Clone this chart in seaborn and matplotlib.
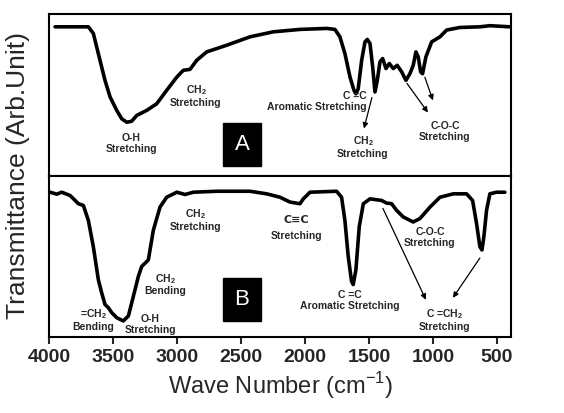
import numpy as np
import pandas as pd
import matplotlib
matplotlib.use("Agg")
import matplotlib.pyplot as plt
import seaborn as sns

# --- spectrum A (wave number, transmittance in arb. units) ---
wn_a = [3953, 3693, 3654, 3602, 3563, 3523, 3471, 3432, 3393, 3354, 3315, 3237,
        3159, 3081, 3002, 2951, 2898, 2846, 2768, 2612, 2430, 2248, 2039, 1830,
        1766, 1727, 1688, 1648, 1617, 1602, 1584, 1557, 1531, 1513, 1492, 1471,
        1453, 1435, 1414, 1393, 1367, 1341, 1310, 1279, 1244, 1211, 1180, 1154,
        1133, 1115, 1096, 1081, 1055, 1010, 945, 893, 789, 633, 555, 398]
tr_a = [92.1, 92.1, 88.0, 71.4, 59.0, 48.7, 40.4, 35.2, 33.1, 33.7, 37.3, 40.4,
        44.5, 52.8, 61.0, 65.2, 65.8, 71.4, 76.6, 80.7, 85.9, 89.0, 90.5, 91.1,
        90.5, 85.9, 75.6, 61.0, 52.8, 50.7, 53.8, 71.4, 82.8, 84.3, 81.8, 67.3,
        51.8, 59.0, 70.4, 72.5, 66.3, 69.4, 66.3, 68.3, 64.2, 59.0, 63.1, 68.3,
        76.6, 73.5, 64.2, 63.1, 73.5, 82.8, 85.9, 90.1, 91.7, 92.1, 92.8, 92.1]

# --- spectrum B ---
wn_b = [3992, 3940, 3901, 3836, 3771, 3732, 3693, 3654, 3615, 3589, 3563, 3537,
        3510, 3471, 3420, 3380, 3341, 3302, 3276, 3250, 3224, 3185, 3133, 3081,
        3002, 2937, 2873, 2690, 2430, 2299, 2195, 2117, 2039, 2013, 1961, 1753,
        1714, 1688, 1662, 1636, 1623, 1602, 1576, 1544, 1492, 1401, 1362, 1323,
        1284, 1232, 1154, 1102, 1023, 945, 841, 737, 690, 659, 633, 617, 602,
        581, 555, 503, 438]
tr_b = [89.8, 88.6, 89.8, 87.8, 82.7, 81.6, 72.4, 56.1, 35.7, 27.6, 20.4, 18.4,
        15.3, 12.2, 10.2, 13.3, 25.5, 37.8, 43.9, 45.9, 48.0, 66.3, 80.6, 86.7,
        89.8, 88.4, 89.8, 90.4, 90.4, 88.8, 86.7, 83.7, 82.7, 85.7, 89.8, 90.4,
        86.7, 72.4, 50.0, 34.7, 32.7, 41.8, 68.4, 82.7, 85.7, 84.7, 83.1, 82.7,
        78.6, 74.5, 71.4, 73.5, 80.6, 86.7, 88.8, 88.8, 84.7, 70.4, 56.1, 54.1,
        62.2, 78.6, 88.8, 89.8, 89.8]

x_ticks = [4000, 3500, 3000, 2500, 2000, 1500, 1000, 500]

# band labels: (text, wave number, transmittance)
labels_a = [
    ("O-H\nStretching", 3359, 19.9),
    ("CH$_\\mathbf{2}$\nStretching", 2852, 49.7),
    ("CH$_\\mathbf{2}$\nStretching", 1547, 18.0),
    ("C-O-C\nStretching", 906, 27.3),
]
labels_b = [
    ("=CH$_\\mathbf{2}$\nBending", 3656, 11.0),
    ("O-H\nStretching", 3211, 8.0),
    ("CH$_\\mathbf{2}$\nBending", 3094, 33.0),
    ("CH$_\\mathbf{2}$\nStretching", 2859, 73.0),
    ("Stretching", 2070, 63.0),
    ("C =C\nAromatic Stretching", 1648, 22.7),
    ("C-O-C\nStretching", 1023, 62.0),
    ("C =CH$_\\mathbf{2}$\nStretching", 906, 11.0),
]
# arrows: (start wn, start tr, end wn, end tr)
arrows_a = [(1477, 48.4, 1539, 29.2), (1203, 57.1, 1039, 39.1), (1063, 60.9, 1000, 46.6)]
arrows_b = [(1391, 79.8, 1055, 23.3), (633, 49.1, 844, 24.5)]

sns.set_style("white")
plt.rcParams["font.family"] = ["Liberation Sans", "DejaVu Sans"]
plt.rcParams["mathtext.fontset"] = "custom"
plt.rcParams["mathtext.rm"] = "Liberation Sans"
plt.rcParams["mathtext.bf"] = "Liberation Sans:bold"

fig, (ax1, ax2) = plt.subplots(2, 1, figsize=(5.64, 4.13), dpi=100, sharex=True)
fig.subplots_adjust(left=0.087, right=0.906, top=0.966, bottom=0.183, hspace=0)

df_a = pd.DataFrame({"wn": wn_a, "tr": tr_a})
df_b = pd.DataFrame({"wn": wn_b, "tr": tr_b})
sns.lineplot(data=df_a, x="wn", y="tr", ax=ax1, color="black", lw=2.6, estimator=None)
sns.lineplot(data=df_b, x="wn", y="tr", ax=ax2, color="black", lw=2.6, estimator=None)

for ax in (ax1, ax2):
    ax.set_xlim(4000, 390)
    ax.set_ylim(0, 100)
    ax.set_yticks([])
    ax.set_ylabel("")
    ax.set_xlabel("")
    for s in ax.spines.values():
        s.set_linewidth(1.5)
        s.set_color("black")

ax1.tick_params(axis="x", bottom=False, labelbottom=False)
ax2.set_xticks(x_ticks)
ax2.tick_params(axis="x", direction="out", length=5, width=1.5, bottom=True,
                labelsize=14)
for t in ax2.get_xticklabels():
    t.set_fontweight("bold")

txt = dict(fontsize=7.5, fontweight="bold", ha="center", va="center", linespacing=1.1)
for s, x, y in labels_a:
    ax1.text(x, y, s, **txt)
ax1.text(1906, 46, "C =C\nAromatic Stretching", multialignment="right", **txt)
for s, x, y in labels_b:
    ax2.text(x, y, s, **txt)
# triple bond sign drawn in DejaVu Sans so the three bars show
ax2.text(2070, 72.4, "C\u2261C", fontsize=8, fontweight="bold", ha="center",
         va="center", family=["DejaVu Sans"])

arrowprops = dict(arrowstyle="-|>", color="black", lw=0.9, mutation_scale=8,
                  shrinkA=0, shrinkB=0)
for x0, y0, x1, y1 in arrows_a:
    ax1.annotate("", xy=(x1, y1), xytext=(x0, y0), arrowprops=arrowprops)
for x0, y0, x1, y1 in arrows_b:
    ax2.annotate("", xy=(x1, y1), xytext=(x0, y0), arrowprops=arrowprops)

box = dict(boxstyle="square,pad=0.5", fc="black", ec="black")
ax1.text(2492, 19.3, "A", color="white", fontsize=16, ha="center", va="center", bbox=box)
ax2.text(2492, 23.3, "B", color="white", fontsize=16, ha="center", va="center", bbox=box)

fig.text(0.032, 0.575, "Transmittance (Arb.Unit)", rotation=90, fontsize=19,
         ha="center", va="center")
fig.text(0.497, 0.067, "Wave Number (cm$^{\\mathrm{-1}}$)", fontsize=17,
         ha="center", va="center")

fig.savefig("out.png", dpi=100)
